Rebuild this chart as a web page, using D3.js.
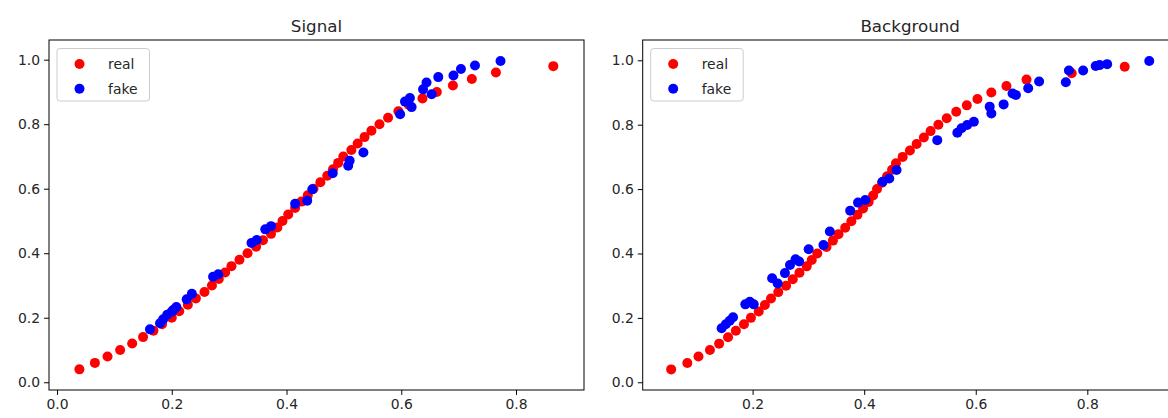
<!DOCTYPE html>
<html>
<head>
<meta charset="utf-8">
<script src="https://cdn.jsdelivr.net/npm/d3@7"></script>
<style>
  html, body { margin: 0; padding: 0; background: #fff; }
  svg { display: block; }
  text { font-family: "DejaVu Sans", sans-serif; fill: #262626; }
</style>
</head>
<body>
<svg id="chart" width="1168" height="418"></svg>
<script>
// ---------- data ----------
const panelTitles = ["Signal", "Background"];
const seriesNames = ["real", "fake"];
const seriesColors = ["#ff0000", "#0000ff"];
const xTicksSignal = [0.0, 0.2, 0.4, 0.6, 0.8];
const xTicksBackground = [0.2, 0.4, 0.6, 0.8];
const yTicks = [0.0, 0.2, 0.4, 0.6, 0.8, 1.0];

// Signal - real (x, y)
const signalRealX = [0.039,0.066,0.088,0.110,0.131,0.150,0.168,0.183,0.200,0.213,0.228,0.242,0.257,0.270,0.282,0.293,0.304,0.318,0.332,0.347,0.359,0.373,0.384,0.393,0.403,0.415,0.426,0.437,0.447,0.459,0.471,0.481,0.490,0.499,0.513,0.524,0.536,0.548,0.562,0.577,0.595,0.613,0.637,0.662,0.690,0.723,0.765,0.865];
const signalRealY = [0.04,0.06,0.08,0.10,0.12,0.14,0.16,0.18,0.20,0.22,0.24,0.26,0.28,0.30,0.32,0.34,0.36,0.38,0.40,0.42,0.44,0.46,0.48,0.50,0.52,0.54,0.56,0.58,0.60,0.62,0.64,0.66,0.68,0.70,0.72,0.74,0.76,0.78,0.80,0.82,0.84,0.86,0.88,0.90,0.92,0.94,0.96,0.98];
// Signal - fake
const signalFakeX = [0.162,0.1795,0.185,0.192,0.200,0.203,0.208,0.226,0.235,0.272,0.281,0.339,0.348,0.363,0.373,0.415,0.436,0.445,0.4805,0.5075,0.510,0.534,0.598,0.6065,0.615,0.618,0.638,0.644,0.653,0.6645,0.691,0.704,0.7285,0.773];
const signalFakeY = [0.164,0.183,0.195,0.209,0.219,0.225,0.233,0.257,0.274,0.327,0.335,0.432,0.441,0.474,0.484,0.553,0.563,0.598,0.648,0.671,0.687,0.712,0.831,0.870,0.881,0.853,0.908,0.929,0.893,0.946,0.951,0.971,0.982,0.996];

// Background - real
const backgroundRealX = [0.054,0.083,0.103,0.1235,0.140,0.156,0.170,0.1845,0.197,0.211,0.222,0.233,0.246,0.260,0.272,0.284,0.297,0.306,0.316,0.3325,0.344,0.354,0.366,0.377,0.388,0.398,0.408,0.416,0.423,0.432,0.441,0.450,0.457,0.469,0.482,0.494,0.507,0.519,0.533,0.548,0.565,0.584,0.603,0.628,0.655,0.691,0.772,0.867];
const backgroundRealY = [0.04,0.06,0.08,0.10,0.12,0.14,0.16,0.18,0.20,0.22,0.24,0.26,0.28,0.30,0.32,0.34,0.36,0.38,0.40,0.42,0.44,0.46,0.48,0.50,0.52,0.54,0.56,0.58,0.60,0.62,0.64,0.66,0.68,0.70,0.72,0.74,0.76,0.78,0.80,0.82,0.84,0.86,0.88,0.90,0.92,0.94,0.96,0.98];
// Background - fake
const backgroundFakeX = [0.1445,0.152,0.159,0.165,0.187,0.195,0.202,0.235,0.245,0.258,0.267,0.277,0.2835,0.3005,0.327,0.3385,0.375,0.389,0.402,0.433,0.445,0.458,0.531,0.567,0.5745,0.5846,0.5966,0.625,0.628,0.650,0.666,0.672,0.694,0.7136,0.7615,0.767,0.7925,0.815,0.822,0.8355,0.911];
const backgroundFakeY = [0.168,0.180,0.191,0.202,0.242,0.250,0.242,0.323,0.307,0.339,0.364,0.382,0.375,0.413,0.426,0.468,0.533,0.558,0.566,0.623,0.633,0.659,0.752,0.775,0.789,0.799,0.809,0.856,0.835,0.863,0.897,0.892,0.913,0.934,0.932,0.968,0.968,0.982,0.985,0.988,0.998];

// ---------- layout ----------
const svg = d3.select("#chart");
const panels = [
  { title: panelTitles[0], left: 49, right: 584, xDomain: [-0.014, 0.9185], yDomain: [-0.024, 1.061], xTicks: xTicksSignal,
    series: [[signalRealX, signalRealY], [signalFakeX, signalFakeY]] },
  { title: panelTitles[1], left: 642.7, right: 1177.7, xDomain: [0.003, 0.962], yDomain: [-0.024, 1.063], xTicks: xTicksBackground,
    series: [[backgroundRealX, backgroundRealY], [backgroundFakeX, backgroundFakeY]] }
];
const plotTop = 40, plotBottom = 390;

panels.forEach(p => {
  const x = d3.scaleLinear().domain(p.xDomain).range([p.left, p.right]);
  const y = d3.scaleLinear().domain(p.yDomain).range([plotBottom, plotTop]);
  const g = svg.append("g");

  // points
  p.series.forEach((s, i) => {
    const pts = s[0].map((v, k) => [v, s[1][k]]);
    g.append("g").selectAll("circle").data(pts).join("circle")
      .attr("cx", d => x(d[0])).attr("cy", d => y(d[1]))
      .attr("r", 5).attr("fill", seriesColors[i]);
  });

  // axes
  const xAxis = d3.axisBottom(x).tickValues(p.xTicks).tickFormat(d3.format(".1f")).tickSize(4.9).tickPadding(4);
  const yAxis = d3.axisLeft(y).tickValues(yTicks).tickFormat(d3.format(".1f")).tickSize(4.9).tickPadding(4);
  const gx = g.append("g").attr("transform", `translate(0,${plotBottom})`).call(xAxis);
  const gy = g.append("g").attr("transform", `translate(${p.left},0)`).call(yAxis);
  [gx, gy].forEach(a => {
    a.select(".domain").remove();
    a.selectAll("line").attr("stroke", "#000").attr("stroke-width", 1);
    a.selectAll("text").attr("font-size", "13.9px").attr("fill", "#262626").style("font-family", "DejaVu Sans");
  });

  // frame
  g.append("rect").attr("x", p.left).attr("y", plotTop).attr("width", p.right - p.left).attr("height", plotBottom - plotTop)
    .attr("fill", "none").attr("stroke", "#000").attr("stroke-width", 1);

  // title
  g.append("text").attr("x", (p.left + p.right) / 2).attr("y", 31.5).attr("text-anchor", "middle")
    .attr("font-size", "16.7px").text(p.title);

  // legend
  const lg = g.append("g").attr("transform", `translate(${p.left + 8},48.5)`);
  lg.append("rect").attr("width", 92.5).attr("height", 52.5).attr("rx", 3)
    .attr("fill", "#fff").attr("fill-opacity", 0.8).attr("stroke", "#cccccc").attr("stroke-width", 1);
  seriesNames.forEach((n, i) => {
    const yy = 15.5 + i * 24.7;
    lg.append("circle").attr("cx", 22.5).attr("cy", yy).attr("r", 5).attr("fill", seriesColors[i]);
    lg.append("text").attr("x", 51).attr("y", yy).attr("dy", "0.35em").attr("font-size", "13.9px").text(n);
  });
});
</script>
</body>
</html>
